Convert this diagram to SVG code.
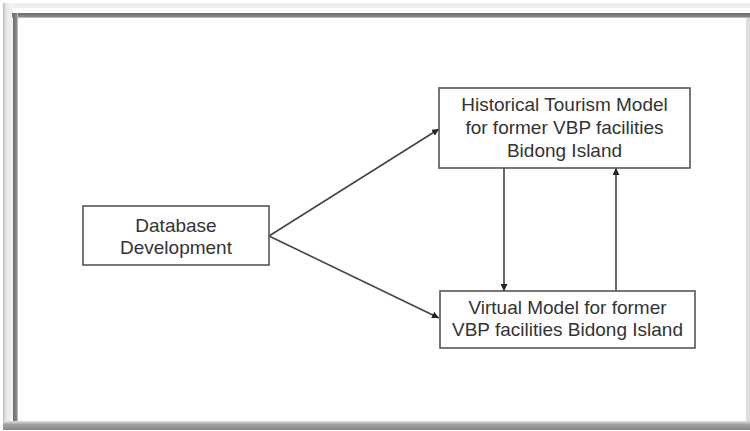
<svg xmlns="http://www.w3.org/2000/svg" width="750" height="431" viewBox="0 0 750 431">
  <defs>
    <style>
      .box { fill: #ffffff; stroke: #555555; stroke-width: 1.6; }
      .lbl { font-family: "Liberation Sans", Arial, sans-serif; font-size: 19px; fill: #333333; text-anchor: middle; }
      .conn { stroke: #444444; stroke-width: 1.6; fill: none; marker-end: url(#ah); }
    </style>
    <marker id="ah" viewBox="0 0 10 10" refX="10" refY="5" markerWidth="7" markerHeight="7" markerUnits="userSpaceOnUse" orient="auto">
      <path d="M0,0 L10,5 L0,10 z" fill="#222222"/>
    </marker>
    <linearGradient id="lg" x1="0" y1="0" x2="1" y2="0">
      <stop offset="0" stop-color="#b8b8b8"/>
      <stop offset="0.3" stop-color="#e8e8e8"/>
      <stop offset="1" stop-color="#f4f4f4"/>
    </linearGradient>
    <linearGradient id="tg" x1="0" y1="0" x2="0" y2="1">
      <stop offset="0" stop-color="#6a6a6a"/>
      <stop offset="0.7" stop-color="#888888"/>
      <stop offset="1" stop-color="#cccccc"/>
    </linearGradient>
    <linearGradient id="lg2" x1="0" y1="0" x2="1" y2="0">
      <stop offset="0" stop-color="#6a6a6a"/>
      <stop offset="0.7" stop-color="#8a8a8a"/>
      <stop offset="1" stop-color="#cccccc"/>
    </linearGradient>
    <linearGradient id="bg" x1="0" y1="0" x2="0" y2="1">
      <stop offset="0" stop-color="#e0e0e0"/>
      <stop offset="0.4" stop-color="#a0a0a0"/>
      <stop offset="1" stop-color="#888888"/>
    </linearGradient>
  </defs>

  <rect x="0" y="0" width="750" height="431" fill="#ffffff"/>

  <g id="frame">
    <rect x="3" y="3" width="747" height="5" fill="#eeeeee"/>
    <rect x="3" y="3" width="10" height="424" fill="url(#lg)"/>
    <rect x="12" y="13" width="738" height="5" fill="url(#tg)"/>
    <rect x="13" y="13" width="5" height="410" fill="url(#lg2)"/>
    <rect x="746" y="18" width="4" height="405" fill="#dddddd"/>
    <rect x="3" y="421" width="747" height="9" fill="url(#bg)"/>
  </g>

  <g id="connectors">
    <line class="conn" x1="269" y1="236" x2="439" y2="129"/>
    <line class="conn" x1="269" y1="236" x2="439" y2="318"/>
    <line class="conn" x1="504" y1="168" x2="504" y2="291"/>
    <line class="conn" x1="616" y1="291" x2="616" y2="168"/>
  </g>

  <g id="node-database">
    <rect class="box" x="83" y="206" width="186" height="59"/>
    <text class="lbl" x="176" y="232">Database</text>
    <text class="lbl" x="176" y="254">Development</text>
  </g>

  <g id="node-historical">
    <rect class="box" x="439" y="88" width="251" height="80"/>
    <text class="lbl" x="564.5" y="111">Historical Tourism Model</text>
    <text class="lbl" x="564.5" y="134">for former VBP facilities</text>
    <text class="lbl" x="564.5" y="157">Bidong Island</text>
  </g>

  <g id="node-virtual">
    <rect class="box" x="440" y="291" width="255" height="57"/>
    <text class="lbl" x="567.5" y="314">Virtual Model for former</text>
    <text class="lbl" x="567.5" y="336">VBP facilities Bidong Island</text>
  </g>
</svg>
